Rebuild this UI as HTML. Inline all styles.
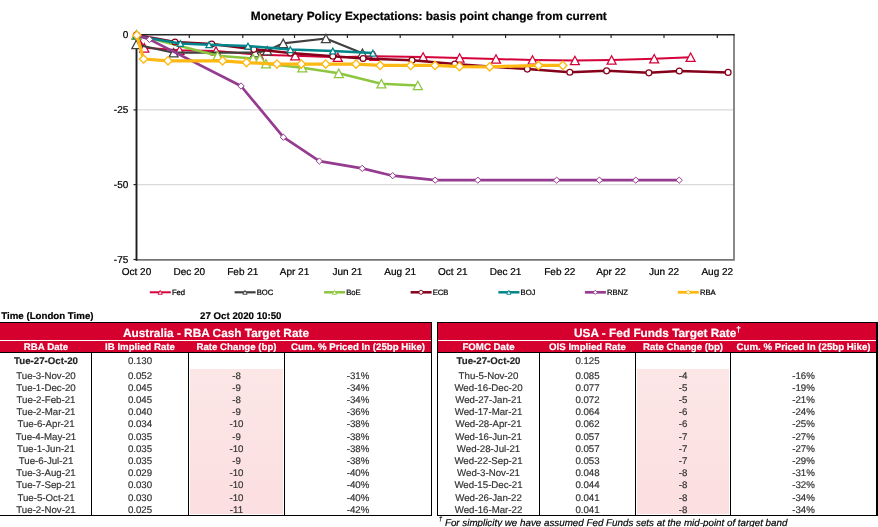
<!DOCTYPE html><html><head><meta charset="utf-8"><title>Monetary Policy Expectations</title>
<style>
html,body{margin:0;padding:0;background:#fff}
body{text-rendering:geometricPrecision;width:878px;height:527px;position:relative;overflow:hidden;font-family:"Liberation Sans", Arial, sans-serif;color:#333333}
.t{position:absolute;text-align:center;white-space:nowrap;-webkit-text-stroke:0.18px currentColor}
svg text{stroke:#000;stroke-width:0.22px}
.b{position:absolute}
.k{background:#000}
.w{color:#fff}
.bd{font-weight:bold}
.d{color:#262626}
sup{font-size:70%;vertical-align:baseline;position:relative;top:-0.62em;line-height:0}
sup.f{font-size:64%;top:-0.72em}
</style></head><body>
<svg width="878" height="305" viewBox="0 0 878 305" style="position:absolute;left:0;top:0" font-family='"Liberation Sans", Arial, sans-serif'>
<text x="428.8" y="20.4" font-size="11.85" font-weight="bold" text-anchor="middle" fill="#000">Monetary Policy Expectations: basis point change from current</text>
<line x1="136.5" x2="734" y1="109.9" y2="109.9" stroke="#D9D9D9" stroke-width="1.2"/>
<line x1="136.5" x2="734" y1="184.6" y2="184.6" stroke="#D9D9D9" stroke-width="1.2"/>
<path d="M734 35 V259.9 H136.5" fill="none" stroke="#757575" stroke-width="1.7"/>
<path d="M136.5 260.8 V34.75" fill="none" stroke="#1c1c1c" stroke-width="1.9"/>
<path d="M135.6 34.75 H734.8" fill="none" stroke="#262626" stroke-width="1.5"/>
<line x1="189.3" x2="189.3" y1="35" y2="38" stroke="#262626" stroke-width="1.2"/>
<line x1="242.8" x2="242.8" y1="35" y2="38" stroke="#262626" stroke-width="1.2"/>
<line x1="294.5" x2="294.5" y1="35" y2="38" stroke="#262626" stroke-width="1.2"/>
<line x1="347.4" x2="347.4" y1="35" y2="38" stroke="#262626" stroke-width="1.2"/>
<line x1="400.2" x2="400.2" y1="35" y2="38" stroke="#262626" stroke-width="1.2"/>
<line x1="452.8" x2="452.8" y1="35" y2="38" stroke="#262626" stroke-width="1.2"/>
<line x1="505.6" x2="505.6" y1="35" y2="38" stroke="#262626" stroke-width="1.2"/>
<line x1="559.8" x2="559.8" y1="35" y2="38" stroke="#262626" stroke-width="1.2"/>
<line x1="611.1" x2="611.1" y1="35" y2="38" stroke="#262626" stroke-width="1.2"/>
<line x1="664" x2="664" y1="35" y2="38" stroke="#262626" stroke-width="1.2"/>
<line x1="717.3" x2="717.3" y1="35" y2="38" stroke="#262626" stroke-width="1.2"/>
<line x1="133.5" x2="136.5" y1="35" y2="35" stroke="#262626" stroke-width="1.2"/>
<line x1="133.5" x2="136.5" y1="109.9" y2="109.9" stroke="#262626" stroke-width="1.2"/>
<line x1="133.5" x2="136.5" y1="184.6" y2="184.6" stroke="#262626" stroke-width="1.2"/>
<line x1="133.5" x2="136.5" y1="259.5" y2="259.5" stroke="#262626" stroke-width="1.2"/>
<text x="128.3" y="38.2" font-size="10" text-anchor="end" fill="#000">0</text>
<text x="128.3" y="113.1" font-size="10" text-anchor="end" fill="#000">-25</text>
<text x="128.3" y="188.1" font-size="10" text-anchor="end" fill="#000">-50</text>
<text x="128.3" y="263.1" font-size="10" text-anchor="end" fill="#000">-75</text>
<text x="136.5" y="275.2" font-size="10" text-anchor="middle" fill="#000">Oct 20</text>
<text x="189.3" y="275.2" font-size="10" text-anchor="middle" fill="#000">Dec 20</text>
<text x="242.8" y="275.2" font-size="10" text-anchor="middle" fill="#000">Feb 21</text>
<text x="294.5" y="275.2" font-size="10" text-anchor="middle" fill="#000">Apr 21</text>
<text x="347.4" y="275.2" font-size="10" text-anchor="middle" fill="#000">Jun 21</text>
<text x="400.2" y="275.2" font-size="10" text-anchor="middle" fill="#000">Aug 21</text>
<text x="452.8" y="275.2" font-size="10" text-anchor="middle" fill="#000">Oct 21</text>
<text x="505.6" y="275.2" font-size="10" text-anchor="middle" fill="#000">Dec 21</text>
<text x="559.8" y="275.2" font-size="10" text-anchor="middle" fill="#000">Feb 22</text>
<text x="611.1" y="275.2" font-size="10" text-anchor="middle" fill="#000">Apr 22</text>
<text x="664" y="275.2" font-size="10" text-anchor="middle" fill="#000">Jun 22</text>
<text x="717.3" y="275.2" font-size="10" text-anchor="middle" fill="#000">Aug 22</text>
<polyline points="136.5,35.0 144.3,47.8 179.5,50.2 216.0,51.0 258.7,54.7 295.2,55.7 337.8,57.2 374.4,56.2 423.1,57.0 459.6,58.0 496.0,59.0 532.5,60.0 574.9,60.5 611.6,60.0 654.2,58.7 690.6,57.2" fill="none" stroke="#D6003A" stroke-width="2.0" stroke-linejoin="round" stroke-linecap="round"/>
<polygon points="136.5,30.8 141.0,39.2 132.0,39.2" fill="#fff" stroke="#D6003A" stroke-width="1.25"/>
<polygon points="144.3,43.6 148.8,52.0 139.8,52.0" fill="#fff" stroke="#D6003A" stroke-width="1.25"/>
<polygon points="179.5,46.0 184.0,54.4 175.0,54.4" fill="#fff" stroke="#D6003A" stroke-width="1.25"/>
<polygon points="216.0,46.8 220.5,55.2 211.5,55.2" fill="#fff" stroke="#D6003A" stroke-width="1.25"/>
<polygon points="258.7,50.5 263.2,58.9 254.2,58.9" fill="#fff" stroke="#D6003A" stroke-width="1.25"/>
<polygon points="295.2,51.5 299.7,59.9 290.7,59.9" fill="#fff" stroke="#D6003A" stroke-width="1.25"/>
<polygon points="337.8,53.0 342.3,61.4 333.3,61.4" fill="#fff" stroke="#D6003A" stroke-width="1.25"/>
<polygon points="374.4,52.0 378.9,60.4 369.9,60.4" fill="#fff" stroke="#D6003A" stroke-width="1.25"/>
<polygon points="423.1,52.8 427.6,61.2 418.6,61.2" fill="#fff" stroke="#D6003A" stroke-width="1.25"/>
<polygon points="459.6,53.8 464.1,62.2 455.1,62.2" fill="#fff" stroke="#D6003A" stroke-width="1.25"/>
<polygon points="496.0,54.8 500.5,63.2 491.5,63.2" fill="#fff" stroke="#D6003A" stroke-width="1.25"/>
<polygon points="532.5,55.8 537.0,64.2 528.0,64.2" fill="#fff" stroke="#D6003A" stroke-width="1.25"/>
<polygon points="574.9,56.3 579.4,64.7 570.4,64.7" fill="#fff" stroke="#D6003A" stroke-width="1.25"/>
<polygon points="611.6,55.8 616.1,64.2 607.1,64.2" fill="#fff" stroke="#D6003A" stroke-width="1.25"/>
<polygon points="654.2,54.5 658.7,62.9 649.7,62.9" fill="#fff" stroke="#D6003A" stroke-width="1.25"/>
<polygon points="690.6,53.0 695.1,61.4 686.1,61.4" fill="#fff" stroke="#D6003A" stroke-width="1.25"/>
<polyline points="136.3,44.5 173.6,52.7 255.1,52.7 267.2,50.7 283.2,43.3 325.9,38.5 362.4,53.3" fill="none" stroke="#404040" stroke-width="2.2" stroke-linejoin="round" stroke-linecap="round"/>
<polygon points="136.3,40.3 140.8,48.7 131.8,48.7" fill="#fff" stroke="#404040" stroke-width="1.25"/>
<polygon points="173.6,48.5 178.1,56.9 169.1,56.9" fill="#fff" stroke="#404040" stroke-width="1.25"/>
<polygon points="255.1,48.5 259.6,56.9 250.6,56.9" fill="#fff" stroke="#404040" stroke-width="1.25"/>
<polygon points="267.2,46.5 271.7,54.9 262.7,54.9" fill="#fff" stroke="#404040" stroke-width="1.25"/>
<polygon points="283.2,39.1 287.7,47.5 278.7,47.5" fill="#fff" stroke="#404040" stroke-width="1.25"/>
<polygon points="325.9,34.3 330.4,42.7 321.4,42.7" fill="#fff" stroke="#404040" stroke-width="1.25"/>
<polygon points="362.4,49.1 366.9,57.5 357.9,57.5" fill="#fff" stroke="#404040" stroke-width="1.25"/>
<polyline points="136.5,34.8 217.6,55.7 253.1,58.6 259.9,58.6 266.0,63.7 302.3,67.7 338.8,73.3 381.4,83.7 417.8,85.5" fill="none" stroke="#8CC63F" stroke-width="2.5" stroke-linejoin="round" stroke-linecap="round"/>
<polygon points="136.5,30.6 141.0,39.0 132.0,39.0" fill="#fff" stroke="#8CC63F" stroke-width="1.25"/>
<polygon points="217.6,51.5 222.1,59.9 213.1,59.9" fill="#fff" stroke="#8CC63F" stroke-width="1.25"/>
<polygon points="253.1,54.4 257.6,62.8 248.6,62.8" fill="#fff" stroke="#8CC63F" stroke-width="1.25"/>
<polygon points="259.9,54.4 264.4,62.8 255.4,62.8" fill="#fff" stroke="#8CC63F" stroke-width="1.25"/>
<polygon points="266.0,59.5 270.5,67.9 261.5,67.9" fill="#fff" stroke="#8CC63F" stroke-width="1.25"/>
<polygon points="302.3,63.5 306.8,71.9 297.8,71.9" fill="#fff" stroke="#8CC63F" stroke-width="1.25"/>
<polygon points="338.8,69.1 343.3,77.5 334.3,77.5" fill="#fff" stroke="#8CC63F" stroke-width="1.25"/>
<polygon points="381.4,79.5 385.9,87.9 376.9,87.9" fill="#fff" stroke="#8CC63F" stroke-width="1.25"/>
<polygon points="417.8,81.3 422.3,89.7 413.3,89.7" fill="#fff" stroke="#8CC63F" stroke-width="1.25"/>
<polyline points="136.5,35.0 175.0,42.0 211.8,44.0 253.8,49.3 290.4,53.0 332.8,56.2 363.1,58.5 412.0,60.3 454.7,64.0 527.3,69.1 569.8,72.2 606.6,70.8 648.9,72.8 679.3,71.0 728.1,72.4" fill="none" stroke="#85001A" stroke-width="2.5" stroke-linejoin="round" stroke-linecap="round"/>
<circle cx="136.5" cy="35.0" r="2.95" fill="#fff" stroke="#85001A" stroke-width="1.25"/>
<circle cx="175.0" cy="42.0" r="2.95" fill="#fff" stroke="#85001A" stroke-width="1.25"/>
<circle cx="211.8" cy="44.0" r="2.95" fill="#fff" stroke="#85001A" stroke-width="1.25"/>
<circle cx="253.8" cy="49.3" r="2.95" fill="#fff" stroke="#85001A" stroke-width="1.25"/>
<circle cx="290.4" cy="53.0" r="2.95" fill="#fff" stroke="#85001A" stroke-width="1.25"/>
<circle cx="332.8" cy="56.2" r="2.95" fill="#fff" stroke="#85001A" stroke-width="1.25"/>
<circle cx="363.1" cy="58.5" r="2.95" fill="#fff" stroke="#85001A" stroke-width="1.25"/>
<circle cx="412.0" cy="60.3" r="2.95" fill="#fff" stroke="#85001A" stroke-width="1.25"/>
<circle cx="454.7" cy="64.0" r="2.95" fill="#fff" stroke="#85001A" stroke-width="1.25"/>
<circle cx="527.3" cy="69.1" r="2.95" fill="#fff" stroke="#85001A" stroke-width="1.25"/>
<circle cx="569.8" cy="72.2" r="2.95" fill="#fff" stroke="#85001A" stroke-width="1.25"/>
<circle cx="606.6" cy="70.8" r="2.95" fill="#fff" stroke="#85001A" stroke-width="1.25"/>
<circle cx="648.9" cy="72.8" r="2.95" fill="#fff" stroke="#85001A" stroke-width="1.25"/>
<circle cx="679.3" cy="71.0" r="2.95" fill="#fff" stroke="#85001A" stroke-width="1.25"/>
<circle cx="728.1" cy="72.4" r="2.95" fill="#fff" stroke="#85001A" stroke-width="1.25"/>
<polyline points="136.5,36.0 180.4,43.4 209.0,44.8 248.0,46.1 290.4,49.6 332.8,51.0 372.9,53.1" fill="none" stroke="#00858A" stroke-width="2.5" stroke-linejoin="round" stroke-linecap="round"/>
<polygon points="136.5,33.1 139.6,38.9 133.4,38.9" fill="#fff" stroke="#00858A" stroke-width="1.25"/>
<polygon points="180.4,40.5 183.5,46.3 177.3,46.3" fill="#fff" stroke="#00858A" stroke-width="1.25"/>
<polygon points="209.0,41.9 212.1,47.7 205.9,47.7" fill="#fff" stroke="#00858A" stroke-width="1.25"/>
<polygon points="248.0,43.2 251.1,49.0 244.9,49.0" fill="#fff" stroke="#00858A" stroke-width="1.25"/>
<polygon points="290.4,46.7 293.5,52.5 287.3,52.5" fill="#fff" stroke="#00858A" stroke-width="1.25"/>
<polygon points="332.8,48.1 335.9,53.9 329.7,53.9" fill="#fff" stroke="#00858A" stroke-width="1.25"/>
<polygon points="372.9,50.2 376.0,56.0 369.8,56.0" fill="#fff" stroke="#00858A" stroke-width="1.25"/>
<polyline points="136.5,35.0 149.5,39.4 241.0,86.0 283.4,137.2 319.4,161.1 362.2,168.4 392.7,175.7 435.2,180.2 477.8,180.2 556.6,180.2 599.4,180.2 635.8,180.2 679.2,180.2" fill="none" stroke="#953C90" stroke-width="2.7" stroke-linejoin="round" stroke-linecap="round"/>
<polygon points="136.5,31.9 139.7,35.0 136.5,38.1 133.3,35.0" fill="#fff" stroke="#953C90" stroke-width="1.0"/>
<polygon points="149.5,36.2 152.7,39.4 149.5,42.5 146.3,39.4" fill="#fff" stroke="#953C90" stroke-width="1.0"/>
<polygon points="241.0,82.8 244.2,86.0 241.0,89.2 237.8,86.0" fill="#fff" stroke="#953C90" stroke-width="1.0"/>
<polygon points="283.4,134.0 286.5,137.2 283.4,140.3 280.2,137.2" fill="#fff" stroke="#953C90" stroke-width="1.0"/>
<polygon points="319.4,157.9 322.5,161.1 319.4,164.2 316.2,161.1" fill="#fff" stroke="#953C90" stroke-width="1.0"/>
<polygon points="362.2,165.2 365.3,168.4 362.2,171.6 359.1,168.4" fill="#fff" stroke="#953C90" stroke-width="1.0"/>
<polygon points="392.7,172.5 395.8,175.7 392.7,178.8 389.6,175.7" fill="#fff" stroke="#953C90" stroke-width="1.0"/>
<polygon points="435.2,177.0 438.3,180.2 435.2,183.3 432.1,180.2" fill="#fff" stroke="#953C90" stroke-width="1.0"/>
<polygon points="477.8,177.0 480.9,180.2 477.8,183.3 474.7,180.2" fill="#fff" stroke="#953C90" stroke-width="1.0"/>
<polygon points="556.6,177.0 559.8,180.2 556.6,183.3 553.5,180.2" fill="#fff" stroke="#953C90" stroke-width="1.0"/>
<polygon points="599.4,177.0 602.5,180.2 599.4,183.3 596.2,180.2" fill="#fff" stroke="#953C90" stroke-width="1.0"/>
<polygon points="635.8,177.0 638.9,180.2 635.8,183.3 632.6,180.2" fill="#fff" stroke="#953C90" stroke-width="1.0"/>
<polygon points="679.2,177.0 682.4,180.2 679.2,183.3 676.1,180.2" fill="#fff" stroke="#953C90" stroke-width="1.0"/>
<polyline points="136.8,35.3 143.6,59.0 168.0,60.8 222.5,60.8 246.5,62.6 277.0,64.1 301.3,64.1 325.7,64.1 356.0,64.1 380.2,65.4 410.7,65.4 435.0,65.4 459.5,66.6 489.7,66.8 538.5,65.4 562.8,65.4" fill="none" stroke="#FDB813" stroke-width="3.2" stroke-linejoin="round" stroke-linecap="round"/>
<polygon points="136.8,31.1 141.0,35.3 136.8,39.4 132.7,35.3" fill="#fff" stroke="#FDB813" stroke-width="1.35"/>
<polygon points="143.6,54.9 147.8,59.0 143.6,63.1 139.4,59.0" fill="#fff" stroke="#FDB813" stroke-width="1.35"/>
<polygon points="168.0,56.6 172.2,60.8 168.0,65.0 163.8,60.8" fill="#fff" stroke="#FDB813" stroke-width="1.35"/>
<polygon points="222.5,56.6 226.7,60.8 222.5,65.0 218.3,60.8" fill="#fff" stroke="#FDB813" stroke-width="1.35"/>
<polygon points="246.5,58.5 250.7,62.6 246.5,66.8 242.3,62.6" fill="#fff" stroke="#FDB813" stroke-width="1.35"/>
<polygon points="277.0,59.9 281.1,64.1 277.0,68.2 272.9,64.1" fill="#fff" stroke="#FDB813" stroke-width="1.35"/>
<polygon points="301.3,59.9 305.4,64.1 301.3,68.2 297.2,64.1" fill="#fff" stroke="#FDB813" stroke-width="1.35"/>
<polygon points="325.7,59.9 329.8,64.1 325.7,68.2 321.6,64.1" fill="#fff" stroke="#FDB813" stroke-width="1.35"/>
<polygon points="356.0,59.9 360.1,64.1 356.0,68.2 351.9,64.1" fill="#fff" stroke="#FDB813" stroke-width="1.35"/>
<polygon points="380.2,61.3 384.3,65.4 380.2,69.6 376.1,65.4" fill="#fff" stroke="#FDB813" stroke-width="1.35"/>
<polygon points="410.7,61.3 414.8,65.4 410.7,69.6 406.6,65.4" fill="#fff" stroke="#FDB813" stroke-width="1.35"/>
<polygon points="435.0,61.3 439.1,65.4 435.0,69.6 430.9,65.4" fill="#fff" stroke="#FDB813" stroke-width="1.35"/>
<polygon points="459.5,62.4 463.6,66.6 459.5,70.8 455.4,66.6" fill="#fff" stroke="#FDB813" stroke-width="1.35"/>
<polygon points="489.7,62.6 493.8,66.8 489.7,71.0 485.6,66.8" fill="#fff" stroke="#FDB813" stroke-width="1.35"/>
<polygon points="538.5,61.3 542.6,65.4 538.5,69.6 534.4,65.4" fill="#fff" stroke="#FDB813" stroke-width="1.35"/>
<polygon points="562.8,61.3 566.9,65.4 562.8,69.6 558.6,65.4" fill="#fff" stroke="#FDB813" stroke-width="1.35"/>
<line x1="149.79999999999998" x2="170.79999999999998" y1="292.3" y2="292.3" stroke="#D6003A" stroke-width="2.0"/>
<polygon points="160.2,290.3 162.3,294.3 158.1,294.3" fill="#fff" stroke="#D6003A" stroke-width="0.9"/>
<text x="171.89999999999998" y="295.1" font-size="7.7" fill="#000">Fed</text>
<line x1="234.6" x2="255.6" y1="292.3" y2="292.3" stroke="#404040" stroke-width="2.2"/>
<polygon points="245.0,290.3 247.1,294.3 242.9,294.3" fill="#fff" stroke="#404040" stroke-width="0.9"/>
<text x="256.7" y="295.1" font-size="7.7" fill="#000">BOC</text>
<line x1="324.1" x2="345.1" y1="292.3" y2="292.3" stroke="#8CC63F" stroke-width="2.5"/>
<polygon points="334.5,290.3 336.6,294.3 332.4,294.3" fill="#fff" stroke="#8CC63F" stroke-width="0.9"/>
<text x="346.2" y="295.1" font-size="7.7" fill="#000">BoE</text>
<line x1="410.6" x2="431.6" y1="292.3" y2="292.3" stroke="#85001A" stroke-width="2.5"/>
<circle cx="421.0" cy="292.3" r="2.00" fill="#fff" stroke="#85001A" stroke-width="0.9"/>
<text x="432.7" y="295.1" font-size="7.7" fill="#000">ECB</text>
<line x1="498.40000000000003" x2="519.4" y1="292.3" y2="292.3" stroke="#00858A" stroke-width="2.5"/>
<polygon points="508.8,290.3 510.9,294.3 506.7,294.3" fill="#fff" stroke="#00858A" stroke-width="0.9"/>
<text x="520.5" y="295.1" font-size="7.7" fill="#000">BOJ</text>
<line x1="584.9" x2="605.9" y1="292.3" y2="292.3" stroke="#953C90" stroke-width="2.7"/>
<polygon points="595.3,290.2 597.4,292.3 595.3,294.4 593.2,292.3" fill="#fff" stroke="#953C90" stroke-width="0.9"/>
<text x="607.0" y="295.1" font-size="7.7" fill="#000">RBNZ</text>
<line x1="677.8000000000001" x2="698.8000000000001" y1="292.3" y2="292.3" stroke="#FDB813" stroke-width="2.8"/>
<polygon points="688.2,290.2 690.3,292.3 688.2,294.4 686.1,292.3" fill="#fff" stroke="#FDB813" stroke-width="0.9"/>
<text x="699.9000000000001" y="295.1" font-size="7.7" fill="#000">RBA</text>
</svg>
<div class="t bd" style="left:1.3px;top:311.82px;font-size:9.7px;line-height:10.83px;color:#000;text-align:left">Time (London Time)</div>
<div class="t bd" style="left:200.1px;top:311.82px;font-size:9.7px;line-height:10.83px;color:#000;text-align:left">27 Oct 2020 10:50</div>
<div class="b" style="left:0px;top:322px;width:432px;height:18px;background:#D6002E"></div>
<div class="b" style="left:0px;top:341px;width:432px;height:11px;background:#D6002E"></div>
<div class="b" style="left:189.5px;top:368.8px;width:93.8px;height:145.6px;background:linear-gradient(#FCE6E6,#FCDFE0)"></div>
<div class="b k" style="left:0px;top:322px;width:432px;height:1px"></div>
<div class="b k" style="left:0px;top:352px;width:432px;height:1px"></div>
<div class="b k" style="left:0px;top:515px;width:432px;height:1px"></div>
<div class="b k" style="left:91px;top:352px;width:1px;height:164px"></div>
<div class="b k" style="left:188px;top:352px;width:1px;height:164px"></div>
<div class="b k" style="left:284px;top:352px;width:1px;height:164px"></div>
<div class="b k" style="left:431px;top:322px;width:1px;height:194px"></div>
<div class="t w bd" style="left:6.00px;top:326.79px;width:420px;font-size:11.83px;line-height:13.214px">Australia - RBA Cash Target Rate</div>
<div class="t w bd" style="left:-54.00px;top:342.82px;width:200px;font-size:9.7px;line-height:10.835px">RBA Date</div>
<div class="t w bd" style="left:40.00px;top:342.82px;width:200px;font-size:9.7px;line-height:10.835px">IB Implied Rate</div>
<div class="t w bd" style="left:136.50px;top:342.82px;width:200px;font-size:9.7px;line-height:10.835px">Rate Change (bp)</div>
<div class="t w bd" style="left:258.00px;top:342.82px;width:200px;font-size:9.7px;line-height:10.835px">Cum. % Priced In (25bp Hike)</div>
<div class="t bd d" style="left:-54.00px;top:356.92px;width:200px;font-size:9.7px;line-height:10.835px">Tue-27-Oct-20</div>
<div class="t " style="left:40.00px;top:356.92px;width:200px;font-size:9.7px;line-height:10.835px">0.130</div>
<div class="t " style="left:-54.00px;top:371.62px;width:200px;font-size:9.7px;line-height:10.835px">Tue-3-Nov-20</div>
<div class="t " style="left:40.00px;top:371.62px;width:200px;font-size:9.7px;line-height:10.835px">0.052</div>
<div class="t " style="left:136.50px;top:371.62px;width:200px;font-size:9.7px;line-height:10.835px">-8</div>
<div class="t " style="left:258.00px;top:371.62px;width:200px;font-size:9.7px;line-height:10.835px">-31%</div>
<div class="t " style="left:-54.00px;top:383.82px;width:200px;font-size:9.7px;line-height:10.835px">Tue-1-Dec-20</div>
<div class="t " style="left:40.00px;top:383.82px;width:200px;font-size:9.7px;line-height:10.835px">0.045</div>
<div class="t " style="left:136.50px;top:383.82px;width:200px;font-size:9.7px;line-height:10.835px">-9</div>
<div class="t " style="left:258.00px;top:383.82px;width:200px;font-size:9.7px;line-height:10.835px">-34%</div>
<div class="t " style="left:-54.00px;top:395.72px;width:200px;font-size:9.7px;line-height:10.835px">Tue-2-Feb-21</div>
<div class="t " style="left:40.00px;top:395.72px;width:200px;font-size:9.7px;line-height:10.835px">0.045</div>
<div class="t " style="left:136.50px;top:395.72px;width:200px;font-size:9.7px;line-height:10.835px">-8</div>
<div class="t " style="left:258.00px;top:395.72px;width:200px;font-size:9.7px;line-height:10.835px">-34%</div>
<div class="t " style="left:-54.00px;top:407.82px;width:200px;font-size:9.7px;line-height:10.835px">Tue-2-Mar-21</div>
<div class="t " style="left:40.00px;top:407.82px;width:200px;font-size:9.7px;line-height:10.835px">0.040</div>
<div class="t " style="left:136.50px;top:407.82px;width:200px;font-size:9.7px;line-height:10.835px">-9</div>
<div class="t " style="left:258.00px;top:407.82px;width:200px;font-size:9.7px;line-height:10.835px">-36%</div>
<div class="t " style="left:-54.00px;top:419.72px;width:200px;font-size:9.7px;line-height:10.835px">Tue-6-Apr-21</div>
<div class="t " style="left:40.00px;top:419.72px;width:200px;font-size:9.7px;line-height:10.835px">0.034</div>
<div class="t " style="left:136.50px;top:419.72px;width:200px;font-size:9.7px;line-height:10.835px">-10</div>
<div class="t " style="left:258.00px;top:419.72px;width:200px;font-size:9.7px;line-height:10.835px">-38%</div>
<div class="t " style="left:-54.00px;top:432.82px;width:200px;font-size:9.7px;line-height:10.835px">Tue-4-May-21</div>
<div class="t " style="left:40.00px;top:432.82px;width:200px;font-size:9.7px;line-height:10.835px">0.035</div>
<div class="t " style="left:136.50px;top:432.82px;width:200px;font-size:9.7px;line-height:10.835px">-9</div>
<div class="t " style="left:258.00px;top:432.82px;width:200px;font-size:9.7px;line-height:10.835px">-38%</div>
<div class="t " style="left:-54.00px;top:444.72px;width:200px;font-size:9.7px;line-height:10.835px">Tue-1-Jun-21</div>
<div class="t " style="left:40.00px;top:444.72px;width:200px;font-size:9.7px;line-height:10.835px">0.035</div>
<div class="t " style="left:136.50px;top:444.72px;width:200px;font-size:9.7px;line-height:10.835px">-10</div>
<div class="t " style="left:258.00px;top:444.72px;width:200px;font-size:9.7px;line-height:10.835px">-38%</div>
<div class="t " style="left:-54.00px;top:456.62px;width:200px;font-size:9.7px;line-height:10.835px">Tue-6-Jul-21</div>
<div class="t " style="left:40.00px;top:456.62px;width:200px;font-size:9.7px;line-height:10.835px">0.035</div>
<div class="t " style="left:136.50px;top:456.62px;width:200px;font-size:9.7px;line-height:10.835px">-9</div>
<div class="t " style="left:258.00px;top:456.62px;width:200px;font-size:9.7px;line-height:10.835px">-38%</div>
<div class="t " style="left:-54.00px;top:468.72px;width:200px;font-size:9.7px;line-height:10.835px">Tue-3-Aug-21</div>
<div class="t " style="left:40.00px;top:468.72px;width:200px;font-size:9.7px;line-height:10.835px">0.029</div>
<div class="t " style="left:136.50px;top:468.72px;width:200px;font-size:9.7px;line-height:10.835px">-10</div>
<div class="t " style="left:258.00px;top:468.72px;width:200px;font-size:9.7px;line-height:10.835px">-40%</div>
<div class="t " style="left:-54.00px;top:480.82px;width:200px;font-size:9.7px;line-height:10.835px">Tue-7-Sep-21</div>
<div class="t " style="left:40.00px;top:480.82px;width:200px;font-size:9.7px;line-height:10.835px">0.030</div>
<div class="t " style="left:136.50px;top:480.82px;width:200px;font-size:9.7px;line-height:10.835px">-10</div>
<div class="t " style="left:258.00px;top:480.82px;width:200px;font-size:9.7px;line-height:10.835px">-40%</div>
<div class="t " style="left:-54.00px;top:493.92px;width:200px;font-size:9.7px;line-height:10.835px">Tue-5-Oct-21</div>
<div class="t " style="left:40.00px;top:493.92px;width:200px;font-size:9.7px;line-height:10.835px">0.030</div>
<div class="t " style="left:136.50px;top:493.92px;width:200px;font-size:9.7px;line-height:10.835px">-10</div>
<div class="t " style="left:258.00px;top:493.92px;width:200px;font-size:9.7px;line-height:10.835px">-40%</div>
<div class="t " style="left:-54.00px;top:505.92px;width:200px;font-size:9.7px;line-height:10.835px">Tue-2-Nov-21</div>
<div class="t " style="left:40.00px;top:505.92px;width:200px;font-size:9.7px;line-height:10.835px">0.025</div>
<div class="t " style="left:136.50px;top:505.92px;width:200px;font-size:9.7px;line-height:10.835px">-11</div>
<div class="t " style="left:258.00px;top:505.92px;width:200px;font-size:9.7px;line-height:10.835px">-42%</div>
<div class="b" style="left:437px;top:322px;width:441px;height:18px;background:#D6002E"></div>
<div class="b" style="left:437px;top:341px;width:441px;height:11px;background:#D6002E"></div>
<div class="b" style="left:636.5px;top:368.8px;width:92.8px;height:145.6px;background:linear-gradient(#FCE6E6,#FCDFE0)"></div>
<div class="b k" style="left:437px;top:322px;width:441px;height:1px"></div>
<div class="b k" style="left:437px;top:352px;width:441px;height:1px"></div>
<div class="b k" style="left:437px;top:515px;width:441px;height:1px"></div>
<div class="b k" style="left:437px;top:322px;width:1px;height:194px"></div>
<div class="b k" style="left:539px;top:352px;width:1px;height:164px"></div>
<div class="b k" style="left:635px;top:352px;width:1px;height:164px"></div>
<div class="b k" style="left:730px;top:352px;width:1px;height:164px"></div>
<div class="b k" style="left:876px;top:322px;width:2px;height:194px"></div>
<div class="t w bd" style="left:447.50px;top:326.79px;width:420px;font-size:11.83px;line-height:13.214px">USA - Fed Funds Target Rate<sup>†</sup></div>
<div class="t w bd" style="left:388.50px;top:342.82px;width:200px;font-size:9.7px;line-height:10.835px">FOMC Date</div>
<div class="t w bd" style="left:487.50px;top:342.82px;width:200px;font-size:9.7px;line-height:10.835px">OIS Implied Rate</div>
<div class="t w bd" style="left:583.00px;top:342.82px;width:200px;font-size:9.7px;line-height:10.835px">Rate Change (bp)</div>
<div class="t w bd" style="left:703.50px;top:342.82px;width:200px;font-size:9.7px;line-height:10.835px">Cum. % Priced In (25bp Hike)</div>
<div class="t bd d" style="left:388.50px;top:356.92px;width:200px;font-size:9.7px;line-height:10.835px">Tue-27-Oct-20</div>
<div class="t " style="left:487.50px;top:356.92px;width:200px;font-size:9.7px;line-height:10.835px">0.125</div>
<div class="t " style="left:388.50px;top:371.62px;width:200px;font-size:9.7px;line-height:10.835px">Thu-5-Nov-20</div>
<div class="t " style="left:487.50px;top:371.62px;width:200px;font-size:9.7px;line-height:10.835px">0.085</div>
<div class="t " style="left:583.00px;top:371.62px;width:200px;font-size:9.7px;line-height:10.835px">-4</div>
<div class="t " style="left:703.50px;top:371.62px;width:200px;font-size:9.7px;line-height:10.835px">-16%</div>
<div class="t " style="left:388.50px;top:383.82px;width:200px;font-size:9.7px;line-height:10.835px">Wed-16-Dec-20</div>
<div class="t " style="left:487.50px;top:383.82px;width:200px;font-size:9.7px;line-height:10.835px">0.077</div>
<div class="t " style="left:583.00px;top:383.82px;width:200px;font-size:9.7px;line-height:10.835px">-5</div>
<div class="t " style="left:703.50px;top:383.82px;width:200px;font-size:9.7px;line-height:10.835px">-19%</div>
<div class="t " style="left:388.50px;top:395.72px;width:200px;font-size:9.7px;line-height:10.835px">Wed-27-Jan-21</div>
<div class="t " style="left:487.50px;top:395.72px;width:200px;font-size:9.7px;line-height:10.835px">0.072</div>
<div class="t " style="left:583.00px;top:395.72px;width:200px;font-size:9.7px;line-height:10.835px">-5</div>
<div class="t " style="left:703.50px;top:395.72px;width:200px;font-size:9.7px;line-height:10.835px">-21%</div>
<div class="t " style="left:388.50px;top:407.82px;width:200px;font-size:9.7px;line-height:10.835px">Wed-17-Mar-21</div>
<div class="t " style="left:487.50px;top:407.82px;width:200px;font-size:9.7px;line-height:10.835px">0.064</div>
<div class="t " style="left:583.00px;top:407.82px;width:200px;font-size:9.7px;line-height:10.835px">-6</div>
<div class="t " style="left:703.50px;top:407.82px;width:200px;font-size:9.7px;line-height:10.835px">-24%</div>
<div class="t " style="left:388.50px;top:419.72px;width:200px;font-size:9.7px;line-height:10.835px">Wed-28-Apr-21</div>
<div class="t " style="left:487.50px;top:419.72px;width:200px;font-size:9.7px;line-height:10.835px">0.062</div>
<div class="t " style="left:583.00px;top:419.72px;width:200px;font-size:9.7px;line-height:10.835px">-6</div>
<div class="t " style="left:703.50px;top:419.72px;width:200px;font-size:9.7px;line-height:10.835px">-25%</div>
<div class="t " style="left:388.50px;top:432.82px;width:200px;font-size:9.7px;line-height:10.835px">Wed-16-Jun-21</div>
<div class="t " style="left:487.50px;top:432.82px;width:200px;font-size:9.7px;line-height:10.835px">0.057</div>
<div class="t " style="left:583.00px;top:432.82px;width:200px;font-size:9.7px;line-height:10.835px">-7</div>
<div class="t " style="left:703.50px;top:432.82px;width:200px;font-size:9.7px;line-height:10.835px">-27%</div>
<div class="t " style="left:388.50px;top:444.72px;width:200px;font-size:9.7px;line-height:10.835px">Wed-28-Jul-21</div>
<div class="t " style="left:487.50px;top:444.72px;width:200px;font-size:9.7px;line-height:10.835px">0.057</div>
<div class="t " style="left:583.00px;top:444.72px;width:200px;font-size:9.7px;line-height:10.835px">-7</div>
<div class="t " style="left:703.50px;top:444.72px;width:200px;font-size:9.7px;line-height:10.835px">-27%</div>
<div class="t " style="left:388.50px;top:456.62px;width:200px;font-size:9.7px;line-height:10.835px">Wed-22-Sep-21</div>
<div class="t " style="left:487.50px;top:456.62px;width:200px;font-size:9.7px;line-height:10.835px">0.053</div>
<div class="t " style="left:583.00px;top:456.62px;width:200px;font-size:9.7px;line-height:10.835px">-7</div>
<div class="t " style="left:703.50px;top:456.62px;width:200px;font-size:9.7px;line-height:10.835px">-29%</div>
<div class="t " style="left:388.50px;top:468.72px;width:200px;font-size:9.7px;line-height:10.835px">Wed-3-Nov-21</div>
<div class="t " style="left:487.50px;top:468.72px;width:200px;font-size:9.7px;line-height:10.835px">0.048</div>
<div class="t " style="left:583.00px;top:468.72px;width:200px;font-size:9.7px;line-height:10.835px">-8</div>
<div class="t " style="left:703.50px;top:468.72px;width:200px;font-size:9.7px;line-height:10.835px">-31%</div>
<div class="t " style="left:388.50px;top:480.82px;width:200px;font-size:9.7px;line-height:10.835px">Wed-15-Dec-21</div>
<div class="t " style="left:487.50px;top:480.82px;width:200px;font-size:9.7px;line-height:10.835px">0.044</div>
<div class="t " style="left:583.00px;top:480.82px;width:200px;font-size:9.7px;line-height:10.835px">-8</div>
<div class="t " style="left:703.50px;top:480.82px;width:200px;font-size:9.7px;line-height:10.835px">-32%</div>
<div class="t " style="left:388.50px;top:493.92px;width:200px;font-size:9.7px;line-height:10.835px">Wed-26-Jan-22</div>
<div class="t " style="left:487.50px;top:493.92px;width:200px;font-size:9.7px;line-height:10.835px">0.041</div>
<div class="t " style="left:583.00px;top:493.92px;width:200px;font-size:9.7px;line-height:10.835px">-8</div>
<div class="t " style="left:703.50px;top:493.92px;width:200px;font-size:9.7px;line-height:10.835px">-34%</div>
<div class="t " style="left:388.50px;top:505.92px;width:200px;font-size:9.7px;line-height:10.835px">Wed-16-Mar-22</div>
<div class="t " style="left:487.50px;top:505.92px;width:200px;font-size:9.7px;line-height:10.835px">0.041</div>
<div class="t " style="left:583.00px;top:505.92px;width:200px;font-size:9.7px;line-height:10.835px">-8</div>
<div class="t " style="left:703.50px;top:505.92px;width:200px;font-size:9.7px;line-height:10.835px">-34%</div>
<div class="t" style="left:438.7px;top:518.53px;font-size:9.8px;line-height:10.95px;color:#000;text-align:left;font-style:italic"><sup class="f">†</sup> For simplicity we have assumed Fed Funds sets at the mid-point of target band</div>
</body></html>
